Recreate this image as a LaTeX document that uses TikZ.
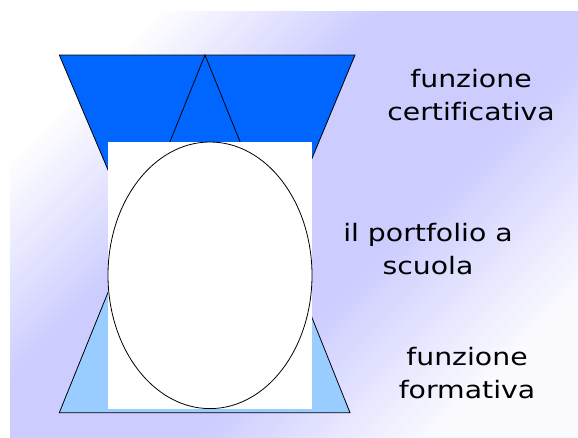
\documentclass[tikz,border=0pt]{standalone}
\usepackage{fontspec}
\setmainfont{DejaVu Sans}[FakeStretch=1.18, Ligatures=NoCommon]
\definecolor{lav}{HTML}{CCCCFF}
\definecolor{palelav}{HTML}{FAFAFF}
\definecolor{darkblue}{HTML}{0066FF}
\definecolor{lightblue}{HTML}{99CCFF}
\pgfdeclarehorizontalshading{bgshade}{100bp}{color(0bp)=(white); color(25bp)=(white); color(41bp)=(lav); color(58bp)=(lav); color(75bp)=(palelav); color(100bp)=(palelav)}
\tikzset{
  shapeline/.style={draw=black, line width=0.8pt, line join=miter},
  label/.style={align=center, inner sep=0pt, anchor=base, font=\fontsize{24}{33}\selectfont}
}
\begin{document}
\begin{tikzpicture}[x=1pt,y=-1pt]
\useasboundingbox (0,0) rectangle (578,437);
\fill[white] (0,0) rectangle (578,437);
\shade[shading=bgshade, shading angle=-45] (10,11) rectangle (578,437);
% bottom trapezoid
\path[shapeline, fill=lightblue] (59.3,412.7) -- (350,412.7) -- (298.9,285) -- (111,285) -- cycle;
% top trapezoid
\path[shapeline, fill=darkblue] (59.3,55) -- (355,55) -- (303,180) -- (112.3,180) -- cycle;
% inner triangle
\path[shapeline, fill=darkblue] (205,55) -- (255.5,180) -- (154.5,180) -- cycle;
% white card
\fill[white] (108,142) rectangle (312,409);
% ellipse
\draw[line width=0.8pt] (210,275.3) ellipse [x radius=102, y radius=133.3];
% labels (base anchor = baseline of the last line)
\node[label] (cert) at (471,120) {funzione\\certificativa};
\node[label] (port) at (428,274) {il portfolio a\\scuola};
\node[label] (form) at (467,398) {funzione\\formativa};
\end{tikzpicture}
\end{document}
